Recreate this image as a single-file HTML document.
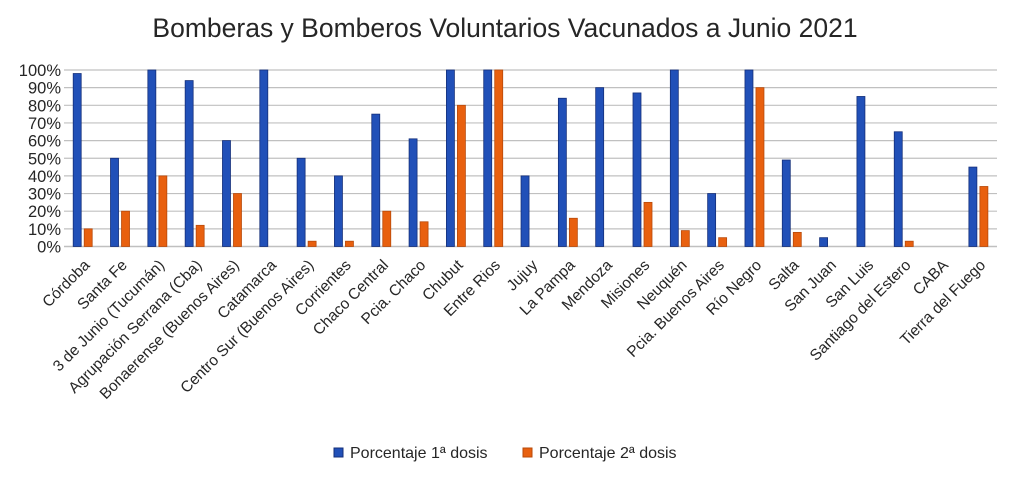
<!DOCTYPE html>
<html><head><meta charset="utf-8"><style>
body{margin:0;background:#fff;}
svg text{font-family:"Liberation Sans",sans-serif;fill:#262626;}
</style></head><body>
<svg id="chart" width="1010" height="475" xmlns="http://www.w3.org/2000/svg">
<text x="505" y="37" text-anchor="middle" font-size="26.5">Bomberas y Bomberos Voluntarios Vacunados a Junio 2021</text>
<g id="grid"></g><g id="bars"></g><g id="labels"></g>
<g>
<rect x="334" y="448" width="9" height="9" fill="#2150b8" stroke="#142f7a" stroke-width="1"/>
<text x="350" y="458" font-size="16">Porcentaje 1ª dosis</text>
<rect x="523" y="448" width="9" height="9" fill="#e8600f" stroke="#b84a0a" stroke-width="1"/>
<text x="539" y="458" font-size="16">Porcentaje 2ª dosis</text>
</g>
</svg>
<script>
const categories=["Córdoba","Santa Fe","3 de Junio (Tucumán)","Agrupación Serrana (Cba)","Bonaerense (Buenos Aires)","Catamarca","Centro Sur (Buenos Aires)","Corrientes","Chaco Central","Pcia. Chaco","Chubut","Entre Rios","Jujuy","La Pampa","Mendoza","Misiones","Neuquén","Pcia. Buenos Aires","Río Negro","Salta","San Juan","San Luis","Santiago del Estero","CABA","Tierra del Fuego"];
const dose1=[98,50,100,94,60,100,50,40,75,61,100,100,40,84,90,87,100,30,100,49,5,85,65,0,45];
const dose2=[10,20,40,12,30,0,3,3,20,14,80,100,0,16,0,25,9,5,90,8,0,0,3,0,34];
const ticks=[0,10,20,30,40,50,60,70,80,90,100];
const NS="http://www.w3.org/2000/svg";
const x0=64,x1=997,y0=246.5,y1=70;
const step=(x1-x0)/categories.length;
function y(v){return y0-(v/100)*(y0-y1);}
function mk(t,a,p){const e=document.createElementNS(NS,t);for(const k in a)e.setAttribute(k,a[k]);p.appendChild(e);return e;}
const grid=document.getElementById('grid'),bars=document.getElementById('bars'),labels=document.getElementById('labels');
ticks.forEach(t=>{
 const l=mk('line',{x1:x0,x2:x1,y1:y(t),y2:y(t),stroke:'#c0c0c0','stroke-width':t===0?1.5:1.2},grid);
 
 
 const tx=mk('text',{x:61,y:y(t)+6,'text-anchor':'end','font-size':'16.5'},grid);
 tx.textContent=t+'%';
 
 
});
categories.forEach((c,i)=>{
 const cx=x0+step*i;
 if(dose1[i]>0){const r=mk('rect',{x:cx+9.2,y:y(dose1[i]),width:8,height:y0-y(dose1[i]),fill:'#2150b8',stroke:'#142f7a','stroke-width':0.8},bars);
 
 }
 if(dose2[i]>0){const r=mk('rect',{x:cx+20.2,y:y(dose2[i]),width:8,height:y0-y(dose2[i]),fill:'#e8600f',stroke:'#b84a0a','stroke-width':0.8},bars);
 
 }
 const mx=cx+step/2+8,my=266;
 const t=mk('text',{x:mx,y:my,'text-anchor':'end','font-size':'15.5',transform:`rotate(-45 ${mx} ${my})`},labels);
 t.textContent=c;
 
 
});
</script>
</body></html>
